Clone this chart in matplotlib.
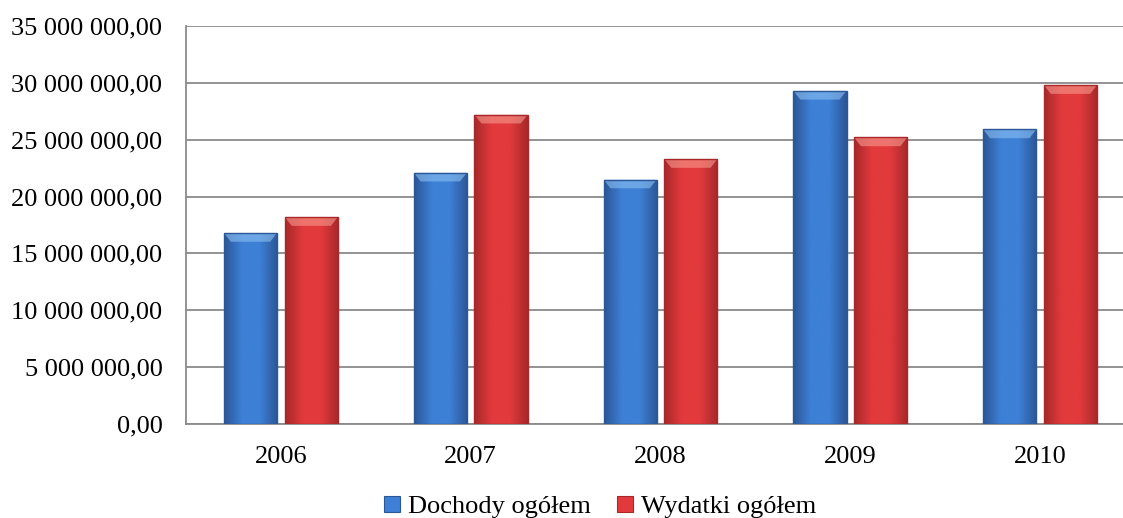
import matplotlib
matplotlib.use("Agg")
import matplotlib.pyplot as plt
import matplotlib.patches as mpatches
from matplotlib.colors import LinearSegmentedColormap
from matplotlib.ticker import FuncFormatter, MultipleLocator
from matplotlib.legend_handler import HandlerPatch
import numpy as np

# --- dane ---
lata = ["2006", "2007", "2008", "2009", "2010"]
dochody = [16800000, 22100000, 21500000, 29300000, 25900000]
wydatki = [18200000, 27200000, 23300000, 25200000, 29800000]
serie = ["Dochody ogółem", "Wydatki ogółem"]

# kolory: krawedz, srodek, gora (bevel)
KOLORY = {
    "blue": ("#2b5797", "#3d80d6", "#8cc0f2"),
    "red": ("#a8282a", "#e23a3c", "#f79a8e"),
}

plt.rcParams["font.family"] = ["Liberation Serif", "DejaVu Serif"]

fig = plt.figure(figsize=(11.23, 5.18), dpi=100)
ax = fig.add_axes([186 / 1123, 1 - 424 / 518, (1135 - 186) / 1123, (424 - 26) / 518])

x = np.arange(len(lata))
szer = 0.28
przes = 0.16


def rysuj_slupek(ax, xc, h, kolory, ymax):
    krawedz, srodek, gora = kolory
    cmap = LinearSegmentedColormap.from_list("g", [krawedz, srodek, srodek, krawedz])
    rect = mpatches.Rectangle((xc - szer / 2, 0), szer, h, facecolor=srodek,
                              edgecolor="none", zorder=3)
    ax.add_patch(rect)
    grad = np.linspace(0, 1, 64).reshape(1, -1)
    img = ax.imshow(grad, extent=(xc - szer / 2, xc + szer / 2, 0, h), aspect="auto",
                    cmap=cmap, zorder=3.1, interpolation="bicubic")
    img.set_clip_path(rect)
    # górny skos
    bh = ymax * 0.022
    bw = szer * 0.13
    bevel = mpatches.Polygon([(xc - szer / 2, h), (xc + szer / 2, h),
                              (xc + szer / 2 - bw, h - bh), (xc - szer / 2 + bw, h - bh)],
                             closed=True, facecolor=gora, edgecolor="none", alpha=0.6,
                             zorder=3.2)
    ax.add_patch(bevel)
    obrys = mpatches.Rectangle((xc - szer / 2, 0), szer, h, facecolor="none",
                               edgecolor=krawedz, linewidth=1.0, zorder=3.3)
    ax.add_patch(obrys)


ymax = 35000000
for i in range(len(lata)):
    rysuj_slupek(ax, x[i] - przes, dochody[i], KOLORY["blue"], ymax)
    rysuj_slupek(ax, x[i] + przes, wydatki[i], KOLORY["red"], ymax)

ax.set_xlim(-0.5, len(lata) - 0.5)
ax.set_ylim(0, ymax)
ax.yaxis.set_major_locator(MultipleLocator(5000000))


def fmt(v, pos):
    s = f"{v:,.2f}"
    return s.replace(",", " ").replace(".", ",")


ax.yaxis.set_major_formatter(FuncFormatter(fmt))
ax.set_xticks(x)
ax.set_xticklabels(lata)
ax.tick_params(axis="both", labelsize=19, length=0, colors="black")
ax.tick_params(axis="x", pad=16)
ax.tick_params(axis="y", pad=17)
ax.grid(axis="y", color="#8a8a8a", linewidth=1.3, zorder=0)
ax.set_axisbelow(True)
for s in ["top", "right"]:
    ax.spines[s].set_visible(False)
for s in ["left", "bottom"]:
    ax.spines[s].set_color("#8a8a8a")
    ax.spines[s].set_linewidth(1.3)


class HandlerGrad(HandlerPatch):
    def create_artists(self, legend, orig_handle, xdescent, ydescent, width, height,
                       fontsize, trans):
        p = mpatches.Rectangle((-xdescent, -ydescent), width, height,
                               facecolor=orig_handle.get_facecolor(),
                               edgecolor=orig_handle.get_edgecolor(), linewidth=0.8,
                               transform=trans)
        return [p]


h1 = mpatches.Patch(facecolor=KOLORY["blue"][1], edgecolor=KOLORY["blue"][0], label=serie[0])
h2 = mpatches.Patch(facecolor=KOLORY["red"][1], edgecolor=KOLORY["red"][0], label=serie[1])
fig.legend(handles=[h1, h2], loc="center", bbox_to_anchor=(600 / 1123, 1 - 507 / 518),
           ncol=2, frameon=False, fontsize=19, handlelength=0.6, handleheight=0.6,
           handletextpad=0.3, columnspacing=1.0, borderpad=0.1,
           handler_map={mpatches.Patch: HandlerGrad()})

fig.savefig("out.png", dpi=100)
